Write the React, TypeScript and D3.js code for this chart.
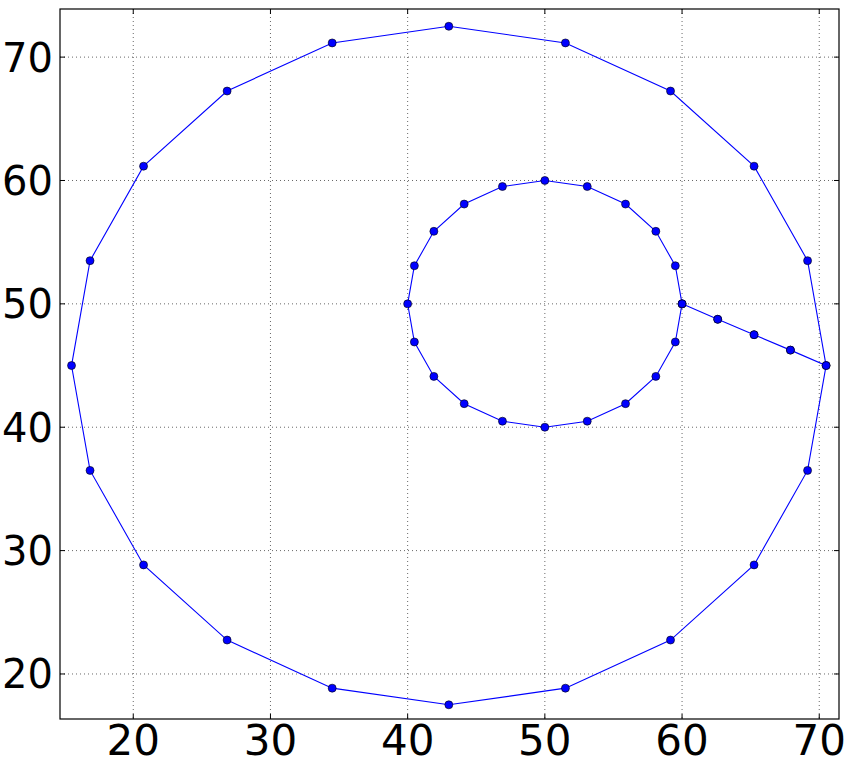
import React from "react";
import * as d3 from "d3";

// Inner circle (center 50,50), closed, starting at (60,50)
const innerX = [60, 59.51, 58.09, 55.88, 53.09, 50, 46.91, 44.12, 41.91, 40.49, 40, 40.49, 41.91, 44.12, 46.91, 50, 53.09, 55.88, 58.09, 59.51, 60];
const innerY = [50, 53.09, 55.88, 58.09, 59.51, 60, 59.51, 58.09, 55.88, 53.09, 50, 46.91, 44.12, 41.91, 40.49, 40, 40.49, 41.91, 44.12, 46.91, 50];
// Connector out to the outer circle
const linkX = [62.6, 65.25, 67.9, 70.5];
const linkY = [48.75, 47.5, 46.25, 45];
// Outer circle (center 43,45), closed, starting at (70.5,45)
const outerX = [69.15, 65.25, 59.16, 51.5, 43, 34.5, 26.84, 20.75, 16.85, 15.5, 16.85, 20.75, 26.84, 34.5, 43, 51.5, 59.16, 65.25, 69.15, 70.5];
const outerY = [53.5, 61.16, 67.25, 71.15, 72.5, 71.15, 67.25, 61.16, 53.5, 45, 36.5, 28.84, 22.75, 18.85, 17.5, 18.85, 22.75, 28.84, 36.5, 45];
// Back along the connector
const backX = [67.9, 65.25, 62.6, 60];
const backY = [46.25, 47.5, 48.75, 50];

const xTicks = [20, 30, 40, 50, 60, 70];
const yTicks = [20, 30, 40, 50, 60, 70];

export default function App() {
  const W = 849, H = 765;
  const L = 60, R = 839, T = 9, B = 719;
  const x = d3.scaleLinear().domain([14.66, 71.44]).range([L, R]);
  const y = d3.scaleLinear().domain([16.35, 73.9]).range([B, T]);

  const xs = [...innerX, ...linkX, ...outerX, ...backX];
  const ys = [...innerY, ...linkY, ...outerY, ...backY];
  const pts: [number, number][] = xs.map((v, i) => [v, ys[i]]);
  const line = d3.line<[number, number]>().x(d => x(d[0])).y(d => y(d[1]));

  return (
    <svg width={W} height={H} style={{ position: "absolute", left: 0, top: 0, background: "#fff" }}>
      <rect x={0} y={0} width={W} height={H} fill="#fff" />
      {/* grid */}
      {xTicks.map(t => (
        <line key={"gx" + t} x1={x(t)} x2={x(t)} y1={T} y2={B} stroke="#000" strokeWidth={0.6} strokeDasharray="1,3" />
      ))}
      {yTicks.map(t => (
        <line key={"gy" + t} x1={L} x2={R} y1={y(t)} y2={y(t)} stroke="#000" strokeWidth={0.6} strokeDasharray="1,3" />
      ))}
      {/* line */}
      <path d={line(pts) || ""} fill="none" stroke="#0000ff" strokeWidth={1.1} />
      {pts.map((p, i) => (
        <circle key={i} cx={x(p[0])} cy={y(p[1])} r={4} fill="#0000ff" stroke="#000" strokeWidth={0.6} />
      ))}
      {/* ticks inward on all sides */}
      {xTicks.map(t => (
        <g key={"tx" + t}>
          <line x1={x(t)} x2={x(t)} y1={B} y2={B - 5} stroke="#000" strokeWidth={1} />
          <line x1={x(t)} x2={x(t)} y1={T} y2={T + 5} stroke="#000" strokeWidth={1} />
          <text x={x(t)} y={B + 36} textAnchor="middle" fontFamily="DejaVu Sans" fontSize={42} fill="#000">{t}</text>
        </g>
      ))}
      {yTicks.map(t => (
        <g key={"ty" + t}>
          <line x1={L} x2={L + 5} y1={y(t)} y2={y(t)} stroke="#000" strokeWidth={1} />
          <line x1={R} x2={R - 5} y1={y(t)} y2={y(t)} stroke="#000" strokeWidth={1} />
          <text x={L - 7} y={y(t)} dy="0.36em" textAnchor="end" fontFamily="DejaVu Sans" fontSize={40} fill="#000">{t}</text>
        </g>
      ))}
      <rect x={L} y={T} width={R - L} height={B - T} fill="none" stroke="#000" strokeWidth={1.2} />
    </svg>
  );
}
